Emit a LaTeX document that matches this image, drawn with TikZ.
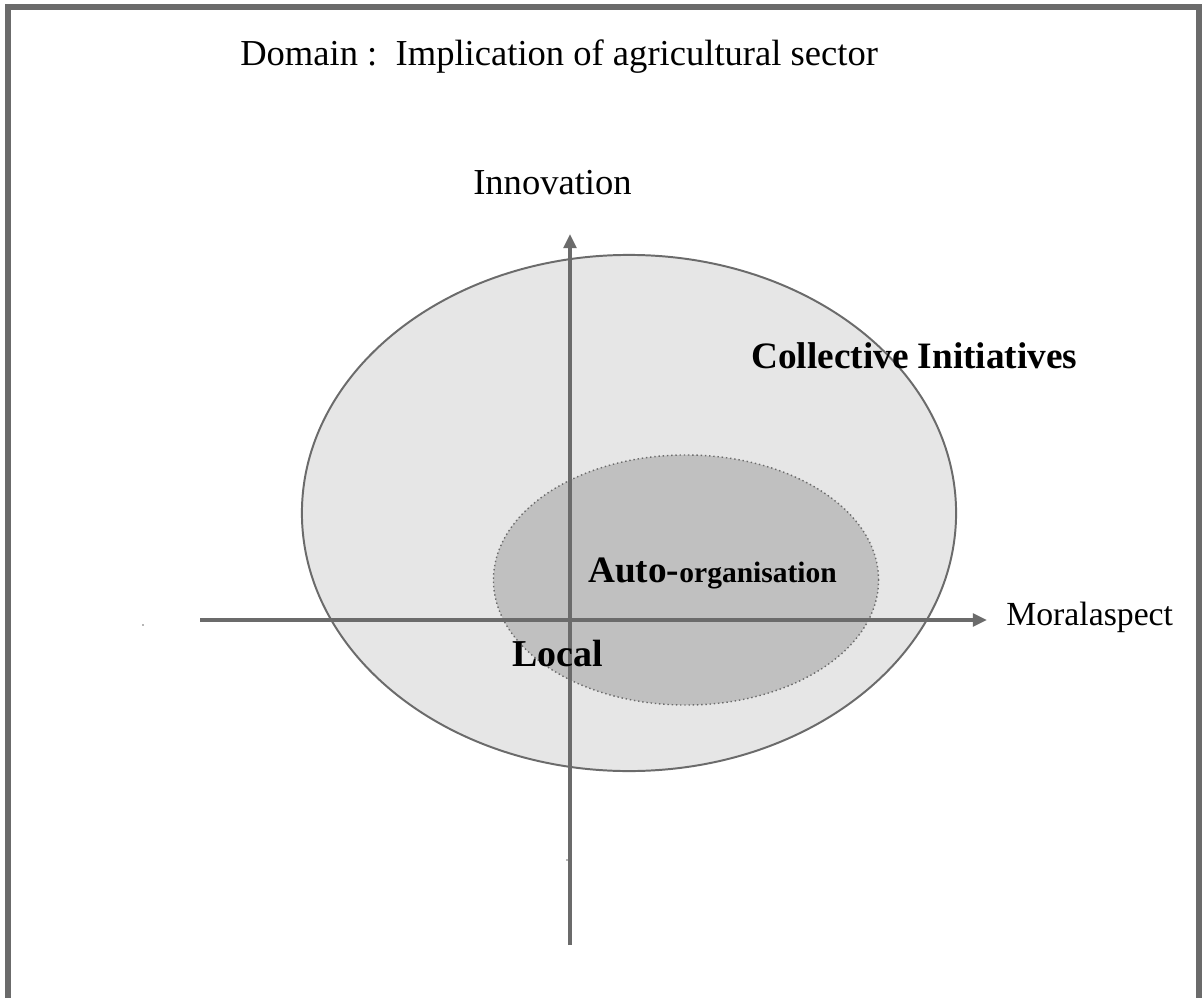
\documentclass[tikz,border=0pt]{standalone}
\usepackage{fontspec}
\setmainfont{Liberation Serif}
\usetikzlibrary{arrows.meta,shapes.geometric}

\definecolor{lineGray}{RGB}{107,107,107}
\definecolor{outerFill}{RGB}{230,230,230}
\definecolor{innerFill}{RGB}{192,192,192}

\tikzset{
  axis/.style={draw=lineGray, line width=2.4pt,
               -{Triangle[length=10pt, width=9pt]}},
  zone/.style={ellipse, inner sep=0pt},
  title/.style={anchor=base west, inner sep=0pt, font=\fontsize{26}{30}\selectfont},
  tag/.style={anchor=base west, inner sep=0pt, font=\fontsize{26.5}{30}\selectfont\bfseries}
}

\begin{document}
\begin{tikzpicture}[x=0.025cm, y=-0.025cm]
  % Page frame
  \useasboundingbox (0,0) rectangle (1203,998);
  \clip (0,0) rectangle (1203,998);
  \draw[lineGray, line width=4.3pt] (8,7) rectangle (1199,1030);

  % Title
  \node(domain)[title] at (240,66) {Domain :\ \ Implication of agricultural sector};

  % The two zones
  \node(collective)[zone, draw=lineGray, line width=1.4pt, fill=outerFill,
                    minimum width=16.35cm, minimum height=12.9cm] at (629,513) {};
  \node(auto)[zone, draw=lineGray, line width=1pt, dotted, fill=innerFill,
              minimum width=9.625cm, minimum height=6.25cm] at (686,580) {};

  % Axes
  \coordinate (xstart) at (200,620);
  \coordinate (xend) at (987,620);
  \coordinate (ystart) at (570,945);
  \coordinate (yend) at (570,234);
  \draw[axis] (xstart) -- (xend);
  \draw[axis] (ystart) -- (yend);

  % Stray marks
  \fill[lineGray] (143,625) circle (0.8);
  \fill[lineGray] (567,860) circle (0.8);

  % Labels
  \node(innovation)[title] at (473,195) {Innovation};
  \node(moral)[title, font=\fontsize{24}{28}\selectfont] at (1006,625) {Moralaspect};
  \node(collectiveLabel)[tag] at (751,368) {Collective Initiatives};
  \node(autoLabel)[tag] at (588,582) {Auto-{\fontsize{21}{24}\selectfont organisation}};
  \node(localLabel)[tag, font=\fontsize{27}{30}\selectfont\bfseries] at (512,666) {Local};
\end{tikzpicture}
\end{document}
